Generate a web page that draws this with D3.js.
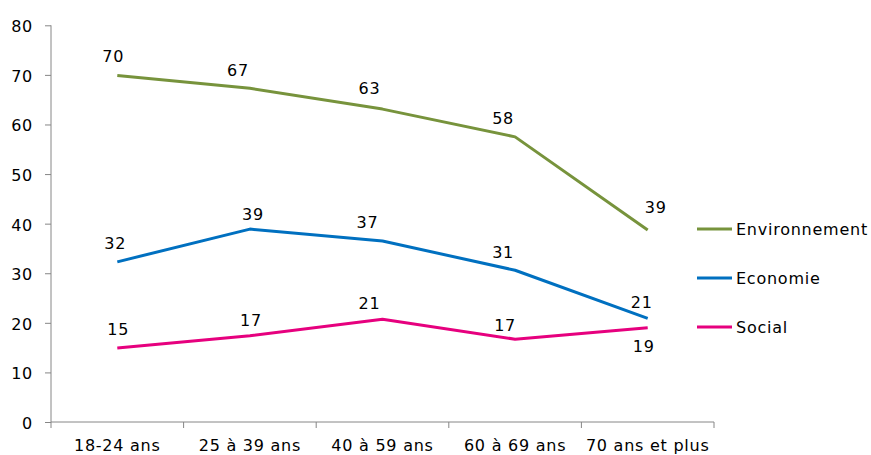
<!DOCTYPE html>
<html>
<head>
<meta charset="utf-8">
<script src="https://cdn.jsdelivr.net/npm/d3@7"></script>
<style>
  body { margin: 0; background: #fff; }
  svg text { font-family: "DejaVu Sans", Verdana, sans-serif; font-size: 16px; letter-spacing: 0.75px; fill: #000; }
</style>
</head>
<body>
<svg id="chart" width="871" height="455"></svg>
<script>
// categories and series
var categories = ["18-24 ans", "25 à 39 ans", "40 à 59 ans", "60 à 69 ans", "70 ans et plus"];
var environnement = [69.9, 67.3, 63.1, 57.5, 38.7];
var economie = [32.3, 38.9, 36.5, 30.6, 20.9];
var social = [14.9, 17.4, 20.7, 16.7, 19.0];
var yTicks = [0, 10, 20, 30, 40, 50, 60, 70, 80];

var series = [
  { name: "Environnement", values: environnement, color: "#77933C" },
  { name: "Economie", values: economie, color: "#0070C0" },
  { name: "Social", values: social, color: "#E6007E" }
];

// small nudges for the value labels (dx, baseline offset from the point)
var labelNudge = {
  "Environnement": [[-4, -13], [-12, -12], [-13, -15], [-12, -13], [8, -17]],
  "Economie": [[-2, -13], [3, -9], [-15, -13], [-12, -12], [-6, -10]],
  "Social": [[1, -13], [1, -10], [-13, -10], [-10, -8], [-4, 24]]
};

var svg = d3.select("#chart");
var axisColor = "#868686";

var x = d3.scaleBand().domain(categories).range([51, 714]);
var y = d3.scaleLinear().domain([0, 80]).range([422, 25.3]);

// y axis
var yAxis = svg.append("g").attr("transform", "translate(51,0)")
  .call(d3.axisLeft(y).tickValues(yTicks).tickSize(6).tickPadding(12));
yAxis.attr("font-size", null).attr("font-family", null);
yAxis.select(".domain").attr("stroke", axisColor).attr("d", "M0," + y(80) + "V" + y(0));
yAxis.selectAll(".tick line").attr("stroke", axisColor);
yAxis.selectAll(".tick text").attr("dy", "0.4em");

// x axis with ticks at the band edges
var xAxis = svg.append("g").attr("transform", "translate(0," + y(0) + ")");
xAxis.append("line")
  .attr("x1", x.range()[0]).attr("x2", x.range()[1])
  .attr("stroke", axisColor);
var edges = d3.range(categories.length + 1).map(function(i) { return x.range()[0] + i * x.step(); });
xAxis.selectAll(".edge").data(edges).enter().append("line")
  .attr("x1", function(d) { return d; }).attr("x2", function(d) { return d; })
  .attr("y1", 0).attr("y2", 6)
  .attr("stroke", axisColor);
xAxis.selectAll(".cat").data(categories).enter().append("text")
  .attr("x", function(d) { return x(d) + x.bandwidth() / 2; })
  .attr("y", 29)
  .attr("text-anchor", "middle")
  .text(function(d) { return d; });

var cx = function(d, i) { return x(categories[i]) + x.bandwidth() / 2; };
var line = d3.line().x(cx).y(function(d) { return y(d); });

series.forEach(function(s) {
  svg.append("path")
    .datum(s.values)
    .attr("fill", "none")
    .attr("stroke", s.color)
    .attr("stroke-width", 3)
    .attr("stroke-linejoin", "round")
    .attr("d", line);

  svg.selectAll(null).data(s.values).enter().append("text")
    .attr("x", function(d, i) { return cx(d, i) + labelNudge[s.name][i][0]; })
    .attr("y", function(d, i) { return y(d) + labelNudge[s.name][i][1]; })
    .attr("text-anchor", "middle")
    .text(function(d) { return d3.format(".0f")(d); });
});

// legend
var legend = svg.selectAll(".legend").data(series).enter().append("g")
  .attr("class", "legend")
  .attr("transform", function(d, i) { return "translate(697," + (229 + i * 49) + ")"; });
legend.append("line")
  .attr("x1", 0).attr("x2", 35)
  .attr("stroke", function(d) { return d.color; })
  .attr("stroke-width", 3);
legend.append("text")
  .attr("x", 39)
  .attr("dy", "0.37em")
  .text(function(d) { return d.name; });
</script>
</body>
</html>
